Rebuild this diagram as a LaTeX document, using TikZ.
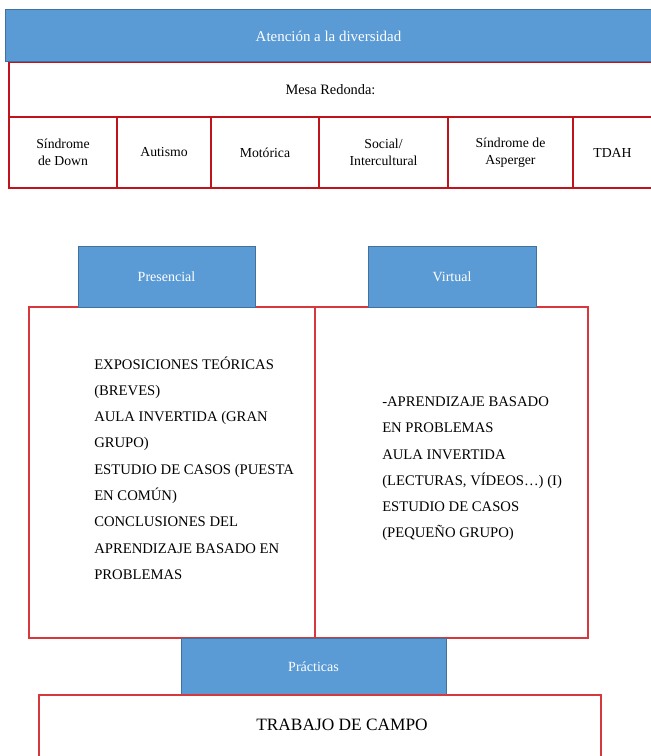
\documentclass[tikz,border=0pt]{standalone}
\usepackage{fontspec}
\setmainfont{Liberation Serif}
\definecolor{bfill}{RGB}{91,155,213}
\definecolor{bdraw}{RGB}{65,113,156}
\definecolor{redA}{RGB}{192,20,28}
\definecolor{redB}{RGB}{214,56,60}
\begin{document}
\begin{tikzpicture}[x=0.75pt,y=-0.75pt,
 dim/.style 2 args={minimum width=#1*0.75pt, minimum height=#2*0.75pt, inner sep=0pt, outer sep=0pt, anchor=north west},
 bluebox/.style={draw=bdraw, fill=bfill, line width=0.75pt, text=white, font=\fontsize{10.5}{12}\selectfont},
 cell/.style={draw=redA, fill=white, line width=0.9pt, align=center, font=\fontsize{10.3}{12.75}\selectfont},
 panel/.style={draw=redB, fill=white, line width=0.9pt},
 bodytext/.style={align=left, anchor=west, inner sep=0pt, font=\fontsize{11}{19.7}\selectfont}
]
\useasboundingbox (0,0) rectangle (650,756);
% top table
\node[cell, dim={643}{55}, font=\fontsize{10.8}{13}\selectfont] (mesa) at (9,62) {Mesa Redonda:};
\node[cell, dim={108}{71}] (c1) at (9,117) {Síndrome\\de Down};
\node[cell, dim={94}{71}] (c2) at (117,117) {Autismo};
\node[cell, dim={108}{71}] (c3) at (211,117) {Motórica};
\node[cell, dim={129}{71}] (c4) at (319,117) {Social/\\Intercultural};
\node[cell, dim={125}{71}] (c5) at (448,117) {Síndrome de\\Asperger};
\node[cell, dim={79}{71}] (c6) at (573,117) {TDAH};
\draw[redA, line width=1.6pt] (c3.north west) -- (c3.north east);
\node[bluebox, dim={647}{52}, font=\fontsize{11.2}{13}\selectfont] (title) at (5,10) {Atención a la diversidad};
% panels
\node[panel, dim={286}{331}] (pres) at (29,307) {};
\node[panel, dim={273}{331}] (virt) at (315,307) {};
\node[bluebox, dim={177}{61}] (presl) at (78,246) {Presencial};
\node[bluebox, dim={168}{61}] (virtl) at (368,246) {Virtual};
\node[bodytext] (prest) at (94,468) {EXPOSICIONES TEÓRICAS\\(BREVES)\\AULA INVERTIDA (GRAN\\GRUPO)\\ESTUDIO DE CASOS (PUESTA\\EN COMÚN)\\CONCLUSIONES DEL\\APRENDIZAJE BASADO EN\\PROBLEMAS};
\node[bodytext] (virtt) at (382,469) {-APRENDIZAJE BASADO\\EN PROBLEMAS\\AULA INVERTIDA\\(LECTURAS, VÍDEOS…) (I)\\ESTUDIO DE CASOS\\(PEQUEÑO GRUPO)};
% practicas
\node[bluebox, dim={265}{57}] (prac) at (181,638) {Prácticas};
\node[panel, dim={562}{70}] (campo) at (39,695) {};
\node[inner sep=0pt, font=\fontsize{13}{15}\selectfont] (campot) at (342,725) {TRABAJO DE CAMPO};
\end{tikzpicture}
\end{document}
